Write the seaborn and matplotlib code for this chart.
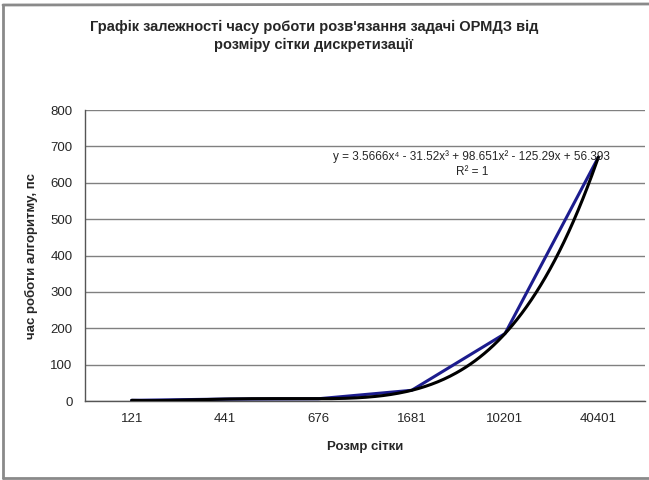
import numpy as np
import matplotlib
matplotlib.use('Agg')
import matplotlib.pyplot as plt
import seaborn as sns
from matplotlib.lines import Line2D

# data
grid_sizes = ['121', '441', '676', '1681', '10201', '40401']
run_time = [1.8, 5.3, 6.2, 29.4, 185.3, 670.1]
y_ticks = [0, 100, 200, 300, 400, 500, 600, 700, 800]

sns.set_style('white')
plt.rcParams['font.family'] = ['Liberation Sans', 'DejaVu Sans']

W, H = 649, 480
fig = plt.figure(figsize=(W / 100, H / 100), dpi=100)
ax = fig.add_axes([85 / W, 1 - 401 / H, (645 - 85) / W, (401 - 110) / H])

pos = np.arange(len(grid_sizes))
sns.lineplot(x=pos, y=run_time, ax=ax, color='#1c1c8e', linewidth=2.2, zorder=3)

# polynomial trendline (order 4) on category index 1..6
coef = np.polyfit(pos + 1, run_time, 4)
xs = np.linspace(1, len(grid_sizes), 300)
ax.plot(xs - 1, np.polyval(coef, xs), color='black', linewidth=2.2, zorder=4)

ax.set_xlim(-0.5, len(grid_sizes) - 0.5)
ax.set_ylim(0, 800)
ax.set_yticks(y_ticks)
ax.set_yticklabels([str(v) for v in y_ticks], fontsize=9.5)
ax.yaxis.grid(True, color='#808080', linewidth=1)
ax.set_axisbelow(True)

ax.set_xticks(pos)
ax.set_xticklabels(grid_sizes, fontsize=9.5)
ax.set_xticks(np.arange(-0.5, len(grid_sizes)), minor=True)
ax.tick_params(axis='x', which='major', length=0, pad=9)
ax.tick_params(axis='x', which='minor', length=4, direction='out', color='#555555', width=1)
ax.tick_params(axis='y', length=5, direction='out', color='#555555', width=1, pad=4)

for s in ['top', 'right']:
    ax.spines[s].set_visible(False)
for s in ['left', 'bottom']:
    ax.spines[s].set_color('#555555')
    ax.spines[s].set_linewidth(1)

ax.set_xlabel('Розмр сітки', fontsize=9.5, fontweight='bold', labelpad=11)
ax.set_ylabel('час роботи алгоритму, пс', fontsize=9.5, fontweight='bold', labelpad=9)

fig.text(314 / W, 1 - 36 / H, "Графік залежності часу роботи розв'язання задачі ОРМДЗ від\nрозміру сітки дискретизації",
         ha='center', va='center', fontsize=10.5, fontweight='bold', linespacing=1.3)

eq = 'y = 3.5666x\u2074 - 31.52x\u00b3 + 98.651x\u00b2 - 125.29x + 56.393'
fig.text(471 / W, 1 - 157 / H, eq, ha='center', va='center', fontsize=8.5,
         family=['Liberation Sans', 'DejaVu Sans'])
fig.text(472 / W, 1 - 172 / H, 'R\u00b2 = 1', ha='center', va='center', fontsize=8.5)

# chart border (right edge cropped)
bc = '#8a8a8a'
fig.add_artist(Line2D([3 / W, 3 / W], [1 - 5 / H, 1 - 478 / H], color=bc, linewidth=2, transform=fig.transFigure))
fig.add_artist(Line2D([3 / W, 1], [1 - 5 / H, 1 - 4 / H], color=bc, linewidth=2, transform=fig.transFigure))
fig.add_artist(Line2D([3 / W, 1], [1 - 478 / H, 1 - 478 / H], color=bc, linewidth=2, transform=fig.transFigure))

fig.savefig('out.png', dpi=100)
